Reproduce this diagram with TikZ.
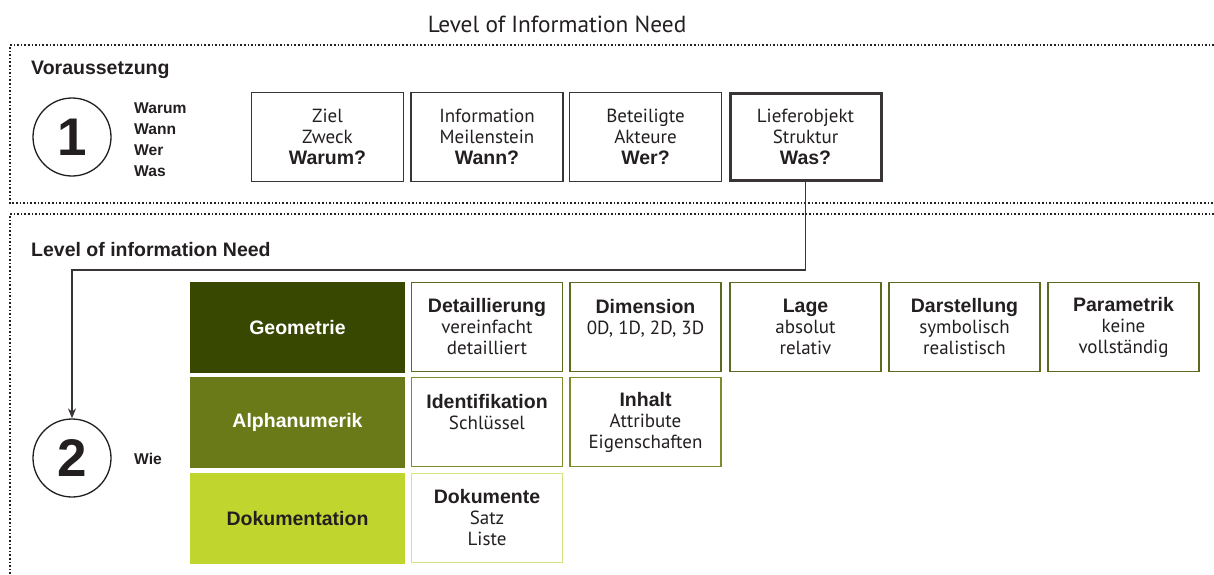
\documentclass[tikz,border=0pt]{standalone}
\usepackage{fontspec}
\setmainfont{PT Sans}
\newfontfamily\boldsans{Liberation Sans}[BoldFont={Liberation Sans Bold}]
\usetikzlibrary{shapes,arrows.meta,calc}

\definecolor{ink}{HTML}{231F20}
\definecolor{geogreen}{HTML}{394800}
\definecolor{alphagreen}{HTML}{6A7A18}
\definecolor{dokugreen}{HTML}{C1D52F}
\definecolor{geoline}{HTML}{5A6A1E}
\definecolor{alphaline}{HTML}{7E8D2C}
\definecolor{dokuline}{HTML}{D6E47C}

\newcommand{\hd}[1]{{\boldsans\bfseries\fontsize{19.5}{21}\selectfont #1}}
\newcommand{\txt}{\fontsize{19}{21}\selectfont}

\tikzset{
  frame/.style={dotted, line width=1.6pt, ink},
  askbox/.style={draw=ink!90, line width=1.3pt, minimum width=152pt, minimum height=89pt,
    inner sep=0pt, align=center, text=ink, font=\txt},
  catbox/.style={minimum width=215pt, minimum height=91pt, inner sep=0pt,
    font=\boldsans\bfseries\fontsize{19.5}{21}\selectfont},
  leafbox/.style={draw=#1, line width=1.3pt, minimum width=151pt, minimum height=89pt,
    inner sep=0pt, align=center, text=ink, font=\txt},
  stage/.style={circle, draw=ink, line width=1.3pt, minimum size=78pt, inner sep=0pt,
    text=ink, font=\boldsans\bfseries\fontsize{53}{53}\selectfont},
  small/.style={text=ink, inner sep=0pt, font=\boldsans\bfseries\fontsize{15.6}{21}\selectfont}
}

\begin{document}
\begin{tikzpicture}[x=1pt,y=-1pt]
\useasboundingbox (0,0) rectangle (1214,574);

% dotted frames
\draw[frame] (1214,45) -- (10,45) -- (10,203) -- (1214,203);
\draw[frame] (1214,214) -- (10,214) -- (10,574);

\node[text=ink, inner sep=0pt, anchor=base] (title) at (557,32)
  {\fontsize{23.3}{23}\selectfont Level of Information Need};

% part 1
\node[text=ink, inner sep=0pt, anchor=base west] (vor) at (31,74) {\hd{Voraussetzung}};
\node[stage] (one) at (72,137) {1};
\node[small, anchor=west, align=left] (why) at (134,140) {Warum\\Wann\\Wer\\Was};

\node[askbox] (ziel) at (327.5,137) {Ziel\\Zweck\\\hd{Warum?}};
\node[askbox] (info) at (487,137) {Information\\Meilenstein\\\hd{Wann?}};
\node[askbox] (akt) at (645.5,137) {Beteiligte\\Akteure\\\hd{Wer?}};
\node[askbox, line width=3pt, minimum width=151pt, minimum height=87pt] (lief) at (805.5,137)
  {Lieferobjekt\\Struktur\\\hd{Was?}};

% part 2
\node[text=ink, inner sep=0pt, anchor=base west] (lvl) at (31,256) {\hd{Level of information Need}};
\node[stage] (two) at (72,458) {2};
\node[small, anchor=west] (wie) at (134,459) {Wie};

\node[catbox, fill=geogreen, text=white] (geo) at (297.5,327.5) {Geometrie};
\node[catbox, fill=alphagreen, text=white] (alpha) at (297.5,422.5) {Alphanumerik};
\node[catbox, fill=dokugreen, text=ink] (doku) at (297.5,518.5) {Dokumentation};

\node[leafbox=geoline] (detail) at (487,327) {\hd{Detaillierung}\\vereinfacht\\detailliert};
\node[leafbox=geoline] (dim) at (645.5,327) {\hd{Dimension}\\0D, 1D, 2D, 3D\\\mbox{}};
\node[leafbox=geoline] (lage) at (805.5,327) {\hd{Lage}\\absolut\\relativ};
\node[leafbox=geoline] (darst) at (964.5,327) {\hd{Darstellung}\\symbolisch\\realistisch};
\node[leafbox=geoline] (param) at (1123.5,327) {\hd{Parametrik}\\keine\\vollständig};

\node[leafbox=alphaline] (ident) at (487,422) {\hd{Identifikation}\\Schlüssel\\\mbox{}};
\node[leafbox=alphaline] (inhalt) at (645.5,422) {\hd{Inhalt}\\Attribute\\Eigenschaften};

\node[leafbox=dokuline] (dokum) at (487,518) {\hd{Dokumente}\\Satz\\Liste};

% connector
\coordinate (bend) at (805.5,270);
\draw[ink!90, line width=1.3pt, -{Stealth[length=10pt,width=8pt]}]
  (lief.south) -- (bend) -- (bend -| two.north) -- (two.north);

\end{tikzpicture}
\end{document}
